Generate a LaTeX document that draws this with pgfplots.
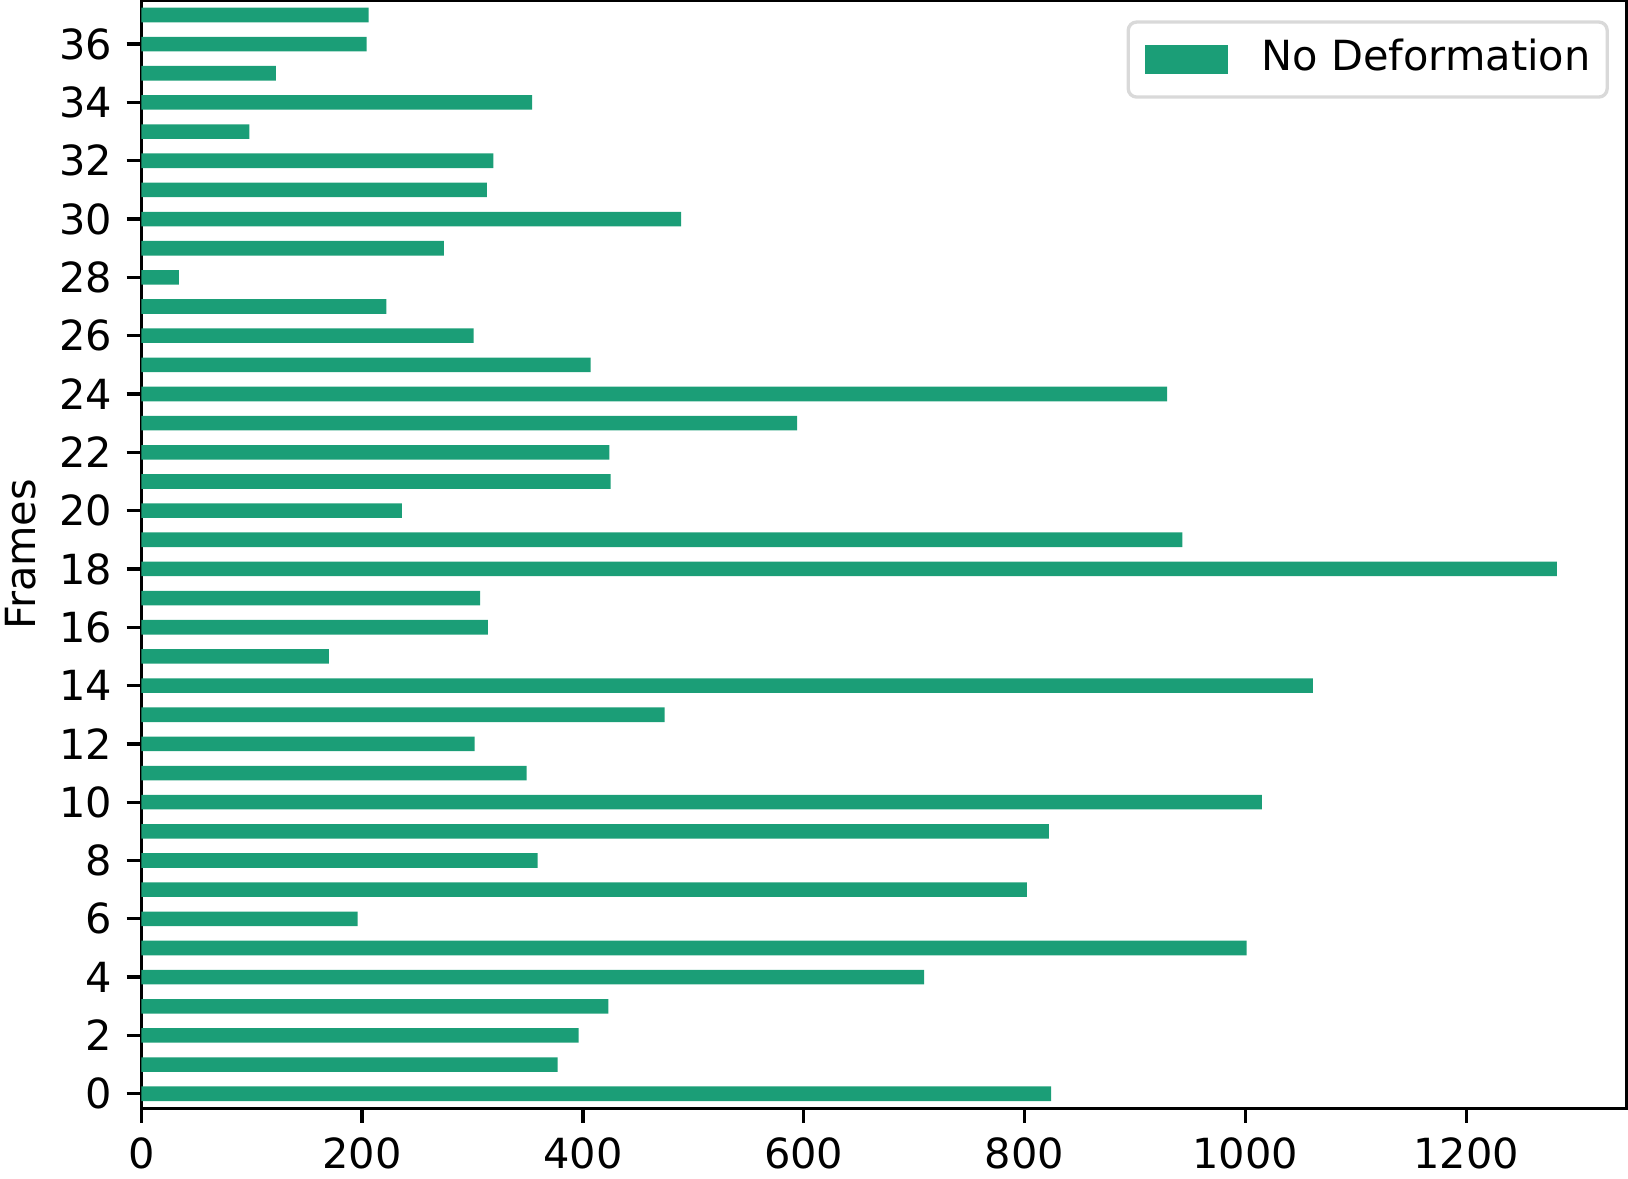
\documentclass[border=0pt]{standalone}
\usepackage{fontspec}
\setmainfont{DejaVu Sans}
\usepackage{pgfplots}
\pgfplotsset{compat=1.18}
\definecolor{barc}{RGB}{27,158,119}
\begin{document}
\begin{tikzpicture}
\begin{axis}[
  name=ax,
  scale only axis,
  width=356.4bp, height=265.9bp,
  xbar, bar width=0.5,
  xmin=0, xmax=1345, ymin=-0.5, ymax=37.5,
  xtick={0,200,...,1200}, ytick={0,2,...,36},
  xtick pos=left, ytick pos=left,
  tick align=outside,
  major tick length=3.5bp,
  every tick/.style={black, line width=0.8bp},
  axis line style={line width=0.8bp},
  /pgf/number format/assume math mode=true,
  /pgf/number format/1000 sep={},
  scaled x ticks=false,
  ylabel={Frames},
  ylabel style={yshift=-1.3bp},
  tick label style={font=\fontsize{10}{12}\selectfont},
  label style={font=\fontsize{10}{12}\selectfont},
  legend style={at={(1,1)}, anchor=north east, xshift=-4.2bp, yshift=-4.8bp,
    draw=black!15, line width=0.8bp, rounded corners=2bp, fill=white,
    inner xsep=4bp, inner ysep=4bp,
    nodes={inner sep=0pt, text height=7.6bp, text depth=2.4bp},
    /tikz/every odd column/.append style={column sep=8bp},
    font=\fontsize{10}{12}\selectfont},
  legend cell align=left,
]
\addplot[fill=barc, draw=none,
  legend image code/.code={\fill[barc, sharp corners] (0bp,-3.5bp) rectangle (20bp,3.5bp);}]
  table[x=v, y=f] {
f v
0 824
1 377
2 396
3 423
4 709
5 1001
6 196
7 802
8 359
9 822
10 1015
11 349
12 302
13 474
14 1061
15 170
16 314
17 307
18 1282
19 943
20 236
21 425
22 424
23 594
24 929
25 407
26 301
27 222
28 34
29 274
30 489
31 313
32 319
33 98
34 354
35 122
36 204
37 206
};
\addlegendentry{No Deformation}
\end{axis}
\pgfresetboundingbox
\path ([xshift=-33.9bp,yshift=-16.8bp]ax.south west) rectangle ([xshift=0.4bp,yshift=0.1bp]ax.north east);
\end{tikzpicture}
\end{document}
